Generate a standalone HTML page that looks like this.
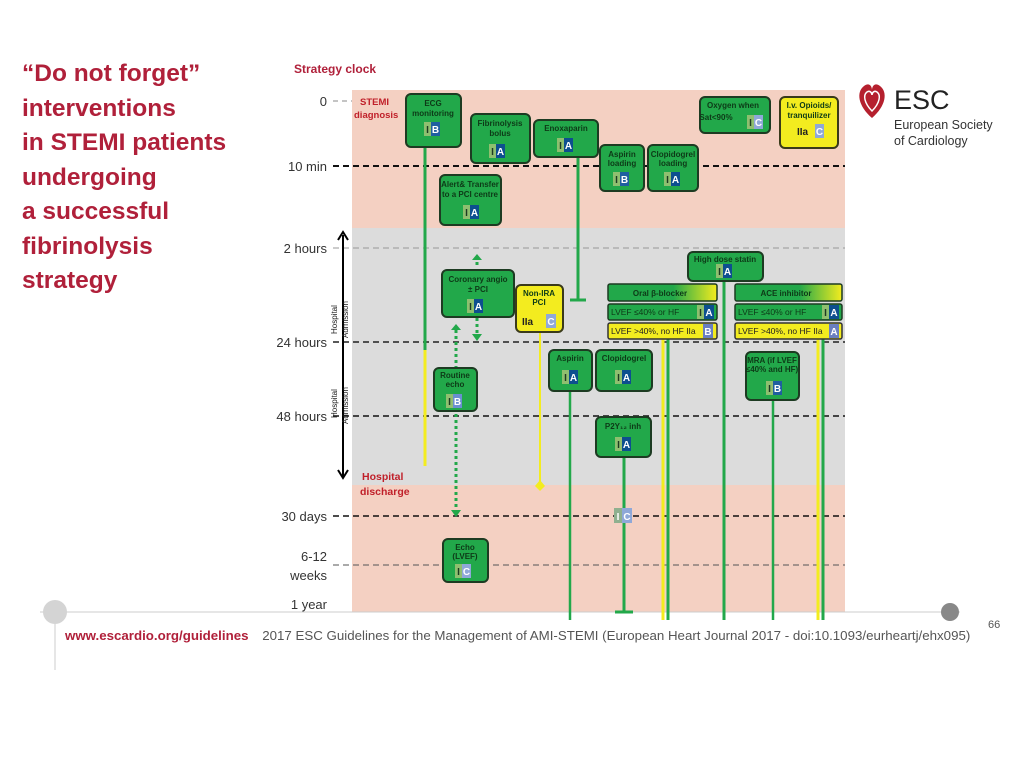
<!DOCTYPE html>
<html><head><meta charset="utf-8"><style>
html,body{margin:0;padding:0;background:#fff;}
body{width:1024px;height:767px;position:relative;overflow:hidden;font-family:"Liberation Sans",sans-serif;}
.title{position:absolute;left:22px;top:57px;color:#b0203a;font-weight:bold;font-size:24.5px;line-height:34.5px;}
.foot{position:absolute;left:65px;top:628px;font-size:13.3px;color:#555;white-space:nowrap;}
.foot b{color:#b0203a;margin-right:10px;}
</style></head><body>
<div class="title">“Do not forget”<br>interventions<br>in STEMI patients<br>undergoing<br>a successful<br>fibrinolysis<br>strategy</div>

<svg width="1024" height="767" style="position:absolute;left:0;top:0" font-family="Liberation Sans, sans-serif">
<defs>
<style>
.bx{fill:#22a84a;stroke:#1d3b22;stroke-width:2}
.yb{fill:#f3ec1f;stroke:#3a3a1a;stroke-width:2}
.t{font-size:8px;fill:#0d3a17;text-anchor:middle;font-weight:600}
.ax{font-size:13px;fill:#333;text-anchor:end}
</style>
<linearGradient id="gy" x1="0" x2="1"><stop offset="0" stop-color="#22a84a"/><stop offset="0.6" stop-color="#22a84a"/><stop offset="1" stop-color="#f3ec1f"/></linearGradient>
</defs>
<rect x="352" y="90" width="493" height="138" fill="#f4d0c2"/>
<rect x="352" y="228" width="493" height="257" fill="#dcdcdc"/>
<rect x="352" y="485" width="493" height="127" fill="#f4d0c2"/>
<text x="294" y="73" font-size="12" font-weight="bold" fill="#b0203a">Strategy clock</text>
<text class="ax" x="327" y="106">0</text>
<text class="ax" x="327" y="171">10 min</text>
<text class="ax" x="327" y="253">2 hours</text>
<text class="ax" x="327" y="347">24 hours</text>
<text class="ax" x="327" y="421">48 hours</text>
<text class="ax" x="327" y="521">30 days</text>
<text class="ax" x="327" y="561">6-12</text>
<text class="ax" x="327" y="580">weeks</text>
<text class="ax" x="327" y="609">1 year</text>
<g fill="none">
<line x1="333" y1="101" x2="352" y2="101" stroke="#888" stroke-width="1" stroke-dasharray="5,4"/>
<line x1="333" y1="166" x2="845" y2="166" stroke="#111" stroke-width="2" stroke-dasharray="6,4"/>
<line x1="333" y1="248" x2="845" y2="248" stroke="#999" stroke-width="1" stroke-dasharray="6,4"/>
<line x1="333" y1="342" x2="845" y2="342" stroke="#222" stroke-width="1.5" stroke-dasharray="6,4"/>
<line x1="333" y1="416" x2="845" y2="416" stroke="#111" stroke-width="1.5" stroke-dasharray="6,4"/>
<line x1="333" y1="516" x2="845" y2="516" stroke="#111" stroke-width="1.5" stroke-dasharray="6,4"/>
<line x1="333" y1="565" x2="845" y2="565" stroke="#555" stroke-width="1" stroke-dasharray="6,4"/>
</g>
<line x1="40" y1="612" x2="960" y2="612" stroke="#ccc" stroke-width="1"/>
<line x1="55" y1="612" x2="55" y2="670" stroke="#ccc" stroke-width="1"/>
<circle cx="55" cy="612" r="12" fill="#d4d4d4"/>
<circle cx="950" cy="612" r="9" fill="#888"/>
<text x="988" y="628" font-size="11" fill="#555">66</text>
<line x1="343" y1="235" x2="343" y2="476" stroke="#000" stroke-width="2"/>
<path d="M338,240 L343,232 L348,240" fill="none" stroke="#000" stroke-width="2"/>
<path d="M338,470 L343,478 L348,470" fill="none" stroke="#000" stroke-width="2"/>
<rect x="328" y="282" width="14" height="52" fill="#fff"/>
<text transform="translate(337,334) rotate(-90)" font-size="8" fill="#222">Hospital</text>
<text transform="translate(348,338) rotate(-90)" font-size="8" fill="#222">Admission</text>
<text transform="translate(337,418) rotate(-90)" font-size="8" fill="#222">Hospital</text>
<text transform="translate(348,424) rotate(-90)" font-size="8" fill="#222">Admission</text>
<text x="360" y="105" font-size="9.5" font-weight="bold" fill="#c0202a">STEMI</text>
<text x="354" y="118" font-size="9.5" font-weight="bold" fill="#c0202a">diagnosis</text>
<text x="362" y="480" font-size="10.5" font-weight="bold" fill="#c0202a">Hospital</text>
<text x="360" y="495" font-size="10.5" font-weight="bold" fill="#c0202a">discharge</text>
<g>
<line x1="425" y1="147" x2="425" y2="350" stroke="#22a84a" stroke-width="3"/>
<line x1="425" y1="350" x2="425" y2="466" stroke="#f3ec1f" stroke-width="3"/>
<line x1="578" y1="157" x2="578" y2="300" stroke="#22a84a" stroke-width="3"/>
<line x1="570" y1="300" x2="586" y2="300" stroke="#22a84a" stroke-width="3"/>
<line x1="540" y1="332" x2="540" y2="484" stroke="#f3ec1f" stroke-width="2"/>
<path d="M535,486 L540,480 L545,486 L540,491 Z" fill="#f3ec1f"/>
<line x1="570" y1="391" x2="570" y2="620" stroke="#22a84a" stroke-width="2.5"/>
<line x1="624" y1="457" x2="624" y2="612" stroke="#22a84a" stroke-width="3"/>
<line x1="615" y1="612" x2="633" y2="612" stroke="#22a84a" stroke-width="3"/>
<line x1="663" y1="339" x2="663" y2="620" stroke="#f3ec1f" stroke-width="3"/>
<line x1="668" y1="339" x2="668" y2="620" stroke="#22a84a" stroke-width="3"/>
<line x1="724" y1="281" x2="724" y2="620" stroke="#22a84a" stroke-width="3"/>
<line x1="773" y1="400" x2="773" y2="620" stroke="#22a84a" stroke-width="2.5"/>
<line x1="818" y1="339" x2="818" y2="620" stroke="#f3ec1f" stroke-width="3"/>
<line x1="823" y1="339" x2="823" y2="620" stroke="#22a84a" stroke-width="3"/>
<line x1="477" y1="256" x2="477" y2="268" stroke="#22a84a" stroke-width="3" stroke-dasharray="3,3"/>
<path d="M472,260 L477,254 L482,260" fill="#22a84a"/>
<line x1="477" y1="318" x2="477" y2="336" stroke="#22a84a" stroke-width="3" stroke-dasharray="3,3"/>
<path d="M472,334 L477,341 L482,334" fill="#22a84a"/>
<line x1="456" y1="330" x2="456" y2="510" stroke="#22a84a" stroke-width="3" stroke-dasharray="3,3"/>
<path d="M451,330 L456,324 L461,330" fill="#22a84a"/>
<path d="M451,510 L456,517 L461,510" fill="#22a84a"/>
</g>
<g>
<rect class="bx" x="406" y="94" width="55" height="53" rx="5"/>
<text class="t" x="433" y="106">ECG</text><text class="t" x="433" y="116">monitoring</text>
<rect class="bx" x="471" y="114" width="59" height="49" rx="5"/>
<text class="t" x="500" y="126" font-size="9">Fibrinolysis</text><text class="t" x="500" y="136" font-size="9">bolus</text>
<rect class="bx" x="534" y="120" width="64" height="37" rx="5"/>
<text class="t" x="566" y="131">Enoxaparin</text>
<rect class="bx" x="600" y="145" width="44" height="46" rx="5"/>
<text class="t" x="622" y="157">Aspirin</text><text class="t" x="622" y="166">loading</text>
<rect class="bx" x="648" y="145" width="50" height="46" rx="5"/>
<text class="t" x="673" y="157">Clopidogrel</text><text class="t" x="673" y="166">loading</text>
<rect class="bx" x="700" y="97" width="70" height="36" rx="5"/>
<text class="t" x="733" y="108">Oxygen when</text><text class="t" x="716" y="120" font-size="6.5">Sat&lt;90%</text>
<rect class="yb" x="780" y="97" width="58" height="51" rx="5"/>
<text class="t" x="809" y="108">I.v. Opioids/</text><text class="t" x="809" y="118">tranquilizer</text>
<text x="797" y="135" font-size="10" font-weight="bold" fill="#222">IIa</text>
<rect class="bx" x="440" y="175" width="61" height="50" rx="5"/>
<text class="t" x="470" y="187">Alert&amp; Transfer</text><text class="t" x="470" y="197">to a PCI centre</text>
<rect class="bx" x="688" y="252" width="75" height="29" rx="5"/>
<text class="t" x="725" y="262">High dose statin</text>
<rect class="bx" x="442" y="270" width="72" height="47" rx="5"/>
<text class="t" x="478" y="282">Coronary angio</text><text class="t" x="478" y="292">± PCI</text>
<rect class="yb" x="516" y="285" width="47" height="47" rx="5"/>
<text class="t" x="539" y="296">Non-IRA</text><text class="t" x="539" y="305">PCI</text>
<text x="522" y="325" font-size="10" font-weight="bold" fill="#222">IIa</text>
<rect x="608" y="284" width="109" height="17" rx="2" fill="url(#gy)" stroke="#1d3b22" stroke-width="1.5"/>
<text class="t" x="660" y="296" font-size="10">Oral β-blocker</text>
<rect x="608" y="304" width="109" height="16" rx="2" fill="#22a84a" stroke="#1d3b22" stroke-width="1.5"/>
<text x="611" y="315" font-size="8.5" fill="#0d3a17">LVEF ≤40% or HF</text>
<rect x="608" y="323" width="109" height="16" rx="2" fill="#f3ec1f" stroke="#333" stroke-width="1.5"/>
<text x="611" y="334" font-size="8.5" fill="#222">LVEF &gt;40%, no HF IIa</text>
<rect x="735" y="284" width="107" height="17" rx="2" fill="url(#gy)" stroke="#1d3b22" stroke-width="1.5"/>
<text class="t" x="786" y="296" font-size="10">ACE inhibitor</text>
<rect x="735" y="304" width="107" height="16" rx="2" fill="#22a84a" stroke="#1d3b22" stroke-width="1.5"/>
<text x="738" y="315" font-size="8.5" fill="#0d3a17">LVEF ≤40% or HF</text>
<rect x="735" y="323" width="107" height="16" rx="2" fill="#f3ec1f" stroke="#333" stroke-width="1.5"/>
<text x="738" y="334" font-size="8.5" fill="#222">LVEF &gt;40%, no HF IIa</text>
<rect class="bx" x="549" y="350" width="43" height="41" rx="5"/>
<text class="t" x="570" y="361">Aspirin</text>
<rect class="bx" x="596" y="350" width="56" height="41" rx="5"/>
<text class="t" x="624" y="361">Clopidogrel</text>
<rect class="bx" x="746" y="352" width="53" height="48" rx="5"/>
<text class="t" x="772" y="363">MRA (if LVEF</text><text class="t" x="772" y="372">≤40% and HF)</text>
<rect class="bx" x="434" y="368" width="43" height="43" rx="5"/>
<text class="t" x="455" y="378">Routine</text><text class="t" x="455" y="387">echo</text>
<rect class="bx" x="596" y="417" width="55" height="40" rx="5"/>
<text class="t" x="623" y="429">P2Y₁₂ inh</text>
<rect class="bx" x="443" y="539" width="45" height="43" rx="5"/>
<text class="t" x="465" y="550">Echo</text><text class="t" x="465" y="559">(LVEF)</text>
</g>
<g font-size="10" font-weight="bold" text-anchor="middle">
<rect x="424" y="122" width="7" height="14" fill="#8fbf6f"/><text x="427.5" y="133" fill="#1d3b22">I</text><rect x="431" y="122" width="9" height="14" fill="#1f5fa0"/><text x="435.5" y="133" fill="#fff">B</text>
<rect x="489" y="144" width="7" height="14" fill="#8fbf6f"/><text x="492.5" y="155" fill="#1d3b22">I</text><rect x="496" y="144" width="9" height="14" fill="#0d4f8f"/><text x="500.5" y="155" fill="#fff">A</text>
<rect x="557" y="138" width="7" height="14" fill="#8fbf6f"/><text x="560.5" y="149" fill="#1d3b22">I</text><rect x="564" y="138" width="9" height="14" fill="#0d4f8f"/><text x="568.5" y="149" fill="#fff">A</text>
<rect x="613" y="172" width="7" height="14" fill="#8fbf6f"/><text x="616.5" y="183" fill="#1d3b22">I</text><rect x="620" y="172" width="9" height="14" fill="#1f5fa0"/><text x="624.5" y="183" fill="#fff">B</text>
<rect x="664" y="172" width="7" height="14" fill="#8fbf6f"/><text x="667.5" y="183" fill="#1d3b22">I</text><rect x="671" y="172" width="9" height="14" fill="#0d4f8f"/><text x="675.5" y="183" fill="#fff">A</text>
<rect x="747" y="115" width="7" height="14" fill="#8fbf6f"/><text x="750.5" y="126" fill="#1d3b22">I</text><rect x="754" y="115" width="9" height="14" fill="#8fa8d8"/><text x="758.5" y="126" fill="#fff">C</text>
<rect x="815" y="124" width="9" height="14" fill="#8fa8d8"/><text x="819.5" y="135" fill="#fff">C</text>
<rect x="463" y="205" width="7" height="14" fill="#8fbf6f"/><text x="466.5" y="216" fill="#1d3b22">I</text><rect x="470" y="205" width="9" height="14" fill="#0d4f8f"/><text x="474.5" y="216" fill="#fff">A</text>
<rect x="716" y="264" width="7" height="14" fill="#8fbf6f"/><text x="719.5" y="275" fill="#1d3b22">I</text><rect x="723" y="264" width="9" height="14" fill="#0d4f8f"/><text x="727.5" y="275" fill="#fff">A</text>
<rect x="467" y="299" width="7" height="14" fill="#8fbf6f"/><text x="470.5" y="310" fill="#1d3b22">I</text><rect x="474" y="299" width="9" height="14" fill="#0d4f8f"/><text x="478.5" y="310" fill="#fff">A</text>
<rect x="546" y="314" width="10" height="14" fill="#8fa8d8"/><text x="551" y="325" fill="#fff">C</text>
<rect x="697" y="305" width="7" height="14" fill="#8fbf6f"/><text x="700.5" y="316" fill="#1d3b22">I</text><rect x="704" y="305" width="10" height="14" fill="#0d4f8f"/><text x="709" y="316" fill="#fff">A</text>
<rect x="703" y="324" width="10" height="14" fill="#6a7fc0"/><text x="708" y="335" fill="#fff">B</text>
<rect x="822" y="305" width="7" height="14" fill="#8fbf6f"/><text x="825.5" y="316" fill="#1d3b22">I</text><rect x="829" y="305" width="10" height="14" fill="#0d4f8f"/><text x="834" y="316" fill="#fff">A</text>
<rect x="829" y="324" width="10" height="14" fill="#6a7fc0"/><text x="834" y="335" fill="#fff">A</text>
<rect x="562" y="370" width="7" height="14" fill="#8fbf6f"/><text x="565.5" y="381" fill="#1d3b22">I</text><rect x="569" y="370" width="9" height="14" fill="#0d4f8f"/><text x="573.5" y="381" fill="#fff">A</text>
<rect x="615" y="370" width="7" height="14" fill="#8fbf6f"/><text x="618.5" y="381" fill="#1d3b22">I</text><rect x="622" y="370" width="9" height="14" fill="#0d4f8f"/><text x="626.5" y="381" fill="#fff">A</text>
<rect x="766" y="381" width="7" height="14" fill="#8fbf6f"/><text x="769.5" y="392" fill="#1d3b22">I</text><rect x="773" y="381" width="9" height="14" fill="#1f5fa0"/><text x="777.5" y="392" fill="#fff">B</text>
<rect x="446" y="394" width="7" height="14" fill="#8fbf6f"/><text x="449.5" y="405" fill="#1d3b22">I</text><rect x="453" y="394" width="9" height="14" fill="#6a8fd0"/><text x="457.5" y="405" fill="#fff">B</text>
<rect x="615" y="437" width="7" height="14" fill="#8fbf6f"/><text x="618.5" y="448" fill="#1d3b22">I</text><rect x="622" y="437" width="9" height="14" fill="#0d4f8f"/><text x="626.5" y="448" fill="#fff">A</text>
<rect x="614" y="508" width="8" height="15" fill="#8fb08f"/><text x="618" y="520" fill="#fff">I</text><rect x="622" y="508" width="10" height="15" fill="#8fa8d8"/><text x="627" y="520" fill="#fff">C</text>
<rect x="455" y="564" width="7" height="14" fill="#8fbf6f"/><text x="458.5" y="575" fill="#1d3b22">I</text><rect x="462" y="564" width="9" height="14" fill="#8fa8d8"/><text x="466.5" y="575" fill="#fff">C</text>
</g>
<g transform="translate(872,98)">
<path d="M0,20 C-14,8 -16,-6 -8,-12 C-3,-16 0,-12 0,-8 C0,-12 3,-16 8,-12 C16,-6 14,8 0,20 Z" fill="#b5202e"/>
<path d="M0,13 C-8,5 -9,-3 -5,-6 C-2,-8 0,-5 0,-3 C0,-5 2,-8 5,-6 C9,-3 8,5 0,13 Z" fill="none" stroke="#fff" stroke-width="1.5"/>
</g>
<text x="894" y="109" font-size="27" fill="#222">ESC</text>
<text x="894" y="129" font-size="12.5" fill="#333">European Society</text>
<text x="894" y="145" font-size="12.5" fill="#333">of Cardiology</text>
</svg>
<div class="foot"><b>www.escardio.org/guidelines</b> 2017 ESC Guidelines for the Management of AMI-STEMI (European Heart Journal 2017 - doi:10.1093/eurheartj/ehx095)</div>
</body></html>
